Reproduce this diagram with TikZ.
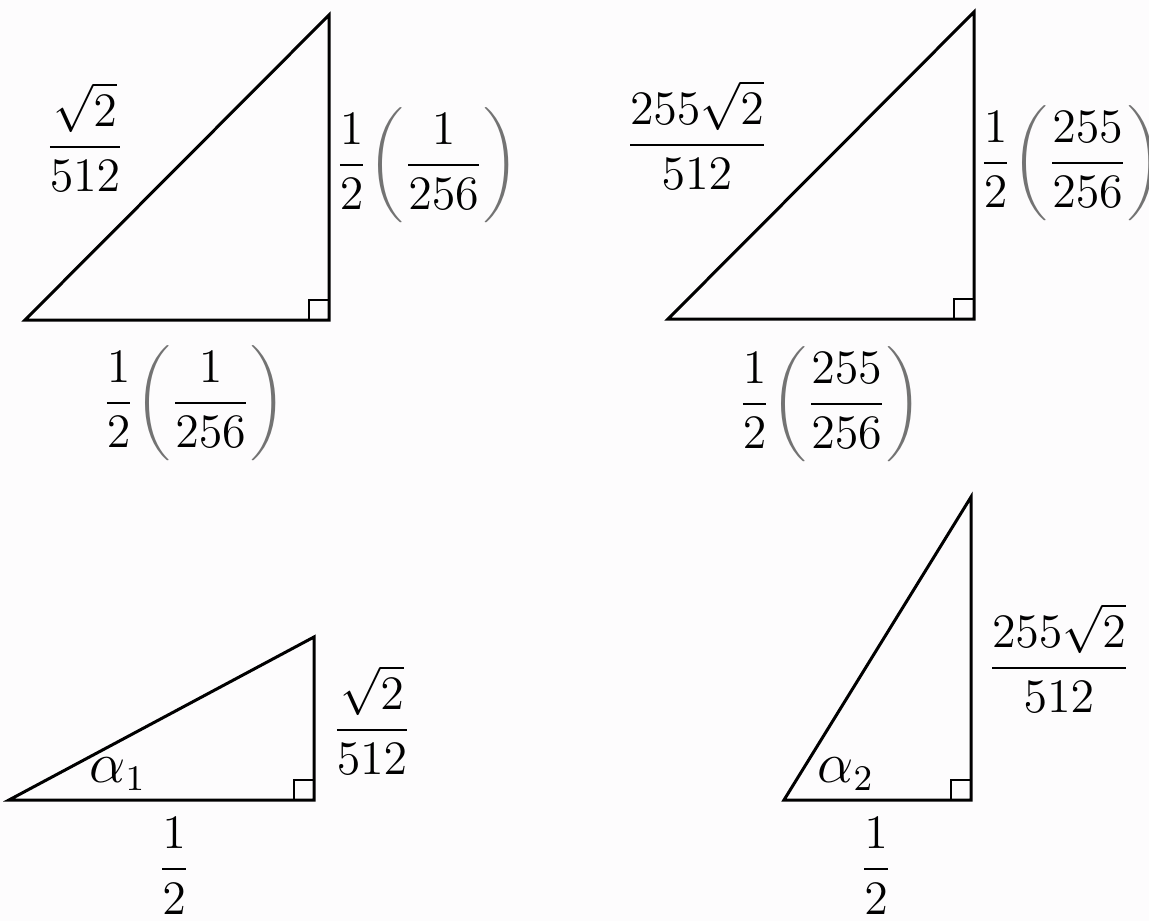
\documentclass[tikz,border=0pt]{standalone}
\usepackage{amsmath}
\definecolor{bg}{RGB}{253,252,253}
\newcommand\pf[2]{\dfrac{1}{2}\!\color{black!55}\left(\color{black}\dfrac{#1}{#2}\color{black!55}\right)}
\begin{document}
\begin{tikzpicture}[x=0.25pt,y=-0.25pt,
  edge/.style={line width=0.75pt, line join=miter},
  rsq/.style={line width=0.65pt},
  lab/.style={inner sep=0pt, font=\fontsize{12}{14}\selectfont},
  anglab/.style={inner sep=0pt, font=\fontsize{13.5}{16}\selectfont}]
\fill[bg] (0,0) rectangle (1149,921);
\useasboundingbox (0,0) rectangle (1149,921);
% triangle 1
\coordinate (a1) at (25,320);
\coordinate (b1) at (329,320);
\coordinate (c1) at (329,15);
\draw[edge] (a1) -- (b1) -- (c1) -- cycle;
\draw[rsq] ([xshift=-5pt]b1) -- ([xshift=-5pt,yshift=5pt]b1) -- ([yshift=5pt]b1);
\node[lab] (h1) at (85,137) {$\dfrac{\sqrt{2}}{512}$};
\node[lab] (r1) at (427,165) {$\pf{1}{256}$};
\node[lab] (u1) at (194,403) {$\pf{1}{256}$};
% triangle 2
\coordinate (a2) at (668,319);
\coordinate (b2) at (974,319);
\coordinate (c2) at (974,12);
\draw[edge] (a2) -- (b2) -- (c2) -- cycle;
\draw[rsq] ([xshift=-5pt]b2) -- ([xshift=-5pt,yshift=5pt]b2) -- ([yshift=5pt]b2);
\node[lab] (h2) at (697,135) {$\dfrac{255\sqrt{2}}{512}$};
\node[lab] (r2) at (1071,163) {$\pf{255}{256}$};
\node[lab] (u2) at (830,404) {$\pf{255}{256}$};
% triangle 3
\coordinate (a3) at (9,800);
\coordinate (b3) at (314,800);
\coordinate (c3) at (314,637);
\draw[edge] (a3) -- (b3) -- (c3) -- cycle;
\draw[rsq] ([xshift=-5pt]b3) -- ([xshift=-5pt,yshift=5pt]b3) -- ([yshift=5pt]b3);
\node[lab] (r3) at (372,720) {$\dfrac{\sqrt{2}}{512}$};
\node[anglab] (al1) at (118,774) {$\alpha_1$};
\node[lab] (u3) at (174,866) {$\dfrac{1}{2}$};
% triangle 4
\coordinate (a4) at (784,800);
\coordinate (b4) at (971,800);
\coordinate (c4) at (971,497);
\draw[edge] (a4) -- (b4) -- (c4) -- cycle;
\draw[rsq] ([xshift=-5pt]b4) -- ([xshift=-5pt,yshift=5pt]b4) -- ([yshift=5pt]b4);
\node[lab] (r4) at (1059,658) {$\dfrac{255\sqrt{2}}{512}$};
\node[anglab] (al2) at (846,774) {$\alpha_2$};
\node[lab] (u4) at (876,866) {$\dfrac{1}{2}$};
\end{tikzpicture}
\end{document}
